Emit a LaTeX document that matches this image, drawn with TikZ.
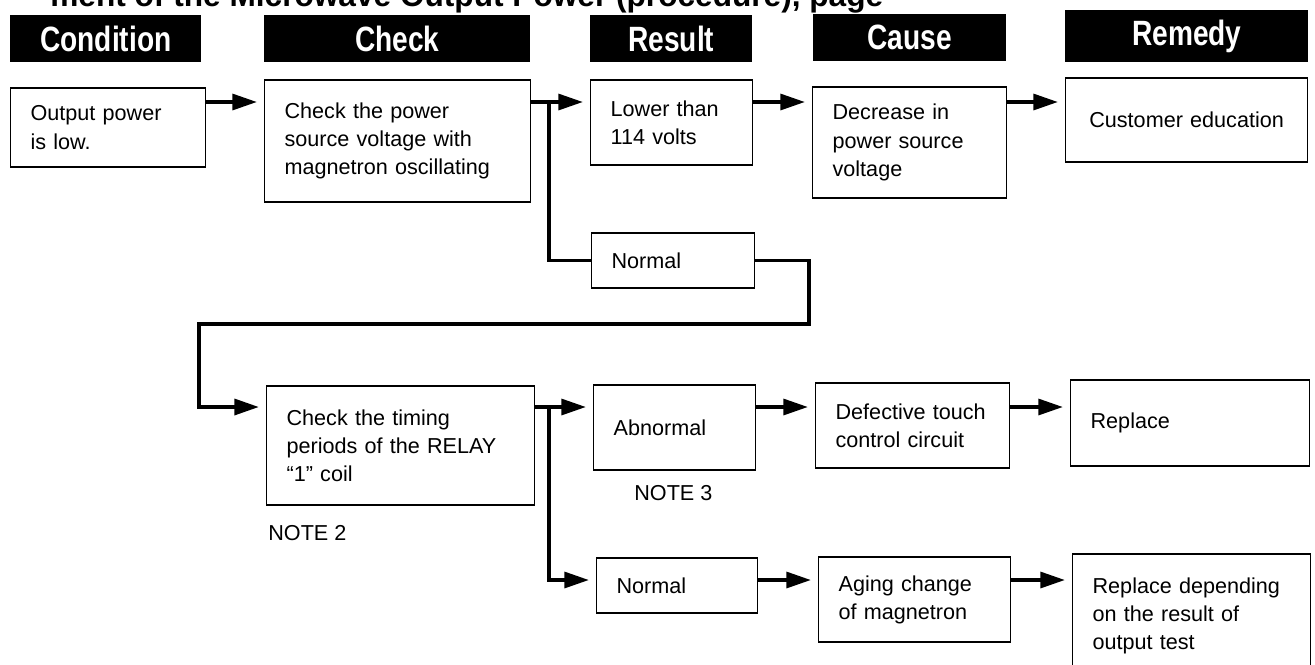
\documentclass[tikz,border=0pt]{standalone}
\usepackage{fontspec}
\usepackage{graphicx}
\setmainfont{Liberation Sans}
\usetikzlibrary{arrows.meta,positioning,calc}
\newcommand{\tallhead}[1]{\scalebox{1}[1.25]{#1}}

\begin{document}
\begin{tikzpicture}[
  x=0.02cm, y=-0.02cm,
  >={Triangle[length=14pt,width=9pt]},
  head/.style={fill=black,text=white,anchor=north west,inner sep=0pt,
    minimum height=0.94cm,font=\bfseries\fontsize{16}{19}\selectfont},
  box/.style={draw,line width=0.7pt,anchor=west,align=left,inner xsep=0.40cm,
    inner ysep=0pt,font=\fontsize{12.3}{16}\selectfont},
  flow/.style={->,line width=2.1pt,shorten >=4pt},
  wire/.style={line width=2.2pt},
  note/.style={anchor=west,inner sep=0pt,font=\fontsize{12.3}{16}\selectfont}
]
\useasboundingbox (0,0) rectangle (1315,664);
\clip (0,0) rectangle (1315,664);

% cut-off title line
\node[anchor=base west,inner sep=0pt,font=\bfseries\fontsize{18}{20}\selectfont]
  (ttl) at (50,6) {ment of the Microwave Output Power (procedure), page};

% column heads
\node[head,minimum width=3.82cm] (hcond) at (10,15) {\tallhead{Condition}};
\node[head,minimum width=5.32cm] (hchk) at (264,15) {\tallhead{Check}};
\node[head,minimum width=3.24cm] (hres) at (590,15) {\tallhead{Result}};
\node[head,minimum width=3.86cm] (hcau) at (813,14) {\tallhead{Cause}};
\node[head,minimum width=4.86cm,minimum height=1.04cm] (hrem) at (1065,10)
  {\tallhead{Remedy}};

% first row
\node[box,text width=3.10cm,minimum height=1.58cm] (out) at (10,127.5)
  {Output power\\is low.};
\node[box,text width=4.52cm,minimum height=2.44cm] (chk) at (264,141)
  {Check the power\\source voltage with\\magnetron oscillating};
\node[box,text width=2.44cm,minimum height=1.70cm] (low) at (590,122.5)
  {Lower than\\114 volts};
\node[box,text width=3.08cm,minimum height=2.22cm] (dec) at (812,142.5)
  {Decrease in\\power source\\voltage};
\node[box,align=center,text width=4.04cm,minimum height=1.68cm] (cust) at (1065,120)
  {Customer education};
\node[box,text width=2.46cm,minimum height=1.10cm] (nor1) at (591,260.5) {Normal};

% second check
\node[box,text width=4.56cm,minimum height=2.38cm] (chk2) at (266,445.5)
  {Check the timing\\periods of the RELAY\\``1'' coil};
\node[note] (nt2) at (268,533) {NOTE 2};
\node[box,text width=2.44cm,minimum height=1.70cm] (abn) at (593,427.5) {Abnormal};
\node[note] (nt3) at (634,493) {NOTE 3};
\node[box,text width=3.08cm,minimum height=1.70cm] (def) at (815,425.5)
  {Defective touch\\control circuit};
\node[box,text width=3.98cm,minimum height=1.72cm] (rep) at (1070,423) {Replace};
\node[box,text width=2.42cm,minimum height=1.10cm] (nor2) at (596,585.5) {Normal};
\node[box,text width=3.04cm,minimum height=1.70cm] (age) at (818,599.5)
  {Aging change\\of magnetron};
\node[box,text width=3.96cm,minimum height=2.48cm] (repd) at (1072,616)
  {Replace depending\\on the result of\\output test};

% rows and bends
\coordinate (r1) at (0,102);
\coordinate (r3) at (0,407);
\coordinate (r4) at (0,580);
\coordinate (br1) at (549,102);
\coordinate (br2) at (549,407);
\coordinate (lpA) at (809,324);
\coordinate (lpB) at (199,324);

\draw[flow] (out.east |- r1) -- (chk.west |- r1);
\draw[flow] (chk.east |- r1) -- (low.west |- r1);
\draw[flow] (low.east |- r1) -- (dec.west |- r1);
\draw[flow] (dec.east |- r1) -- (cust.west |- r1);
\draw[wire] (br1) |- (nor1.west);
\draw[flow,line width=2.2pt] (nor1.east) -| (lpA) -- (lpB) |- (chk2.west |- r3);

\draw[flow] (chk2.east |- r3) -- (abn.west |- r3);
\draw[flow] (abn.east |- r3) -- (def.west |- r3);
\draw[flow] (def.east |- r3) -- (rep.west |- r3);
\draw[flow] (br2) |- (nor2.west |- r4);
\draw[flow] (nor2.east |- r4) -- (age.west |- r4);
\draw[flow] (age.east |- r4) -- (repd.west |- r4);
\end{tikzpicture}
\end{document}
